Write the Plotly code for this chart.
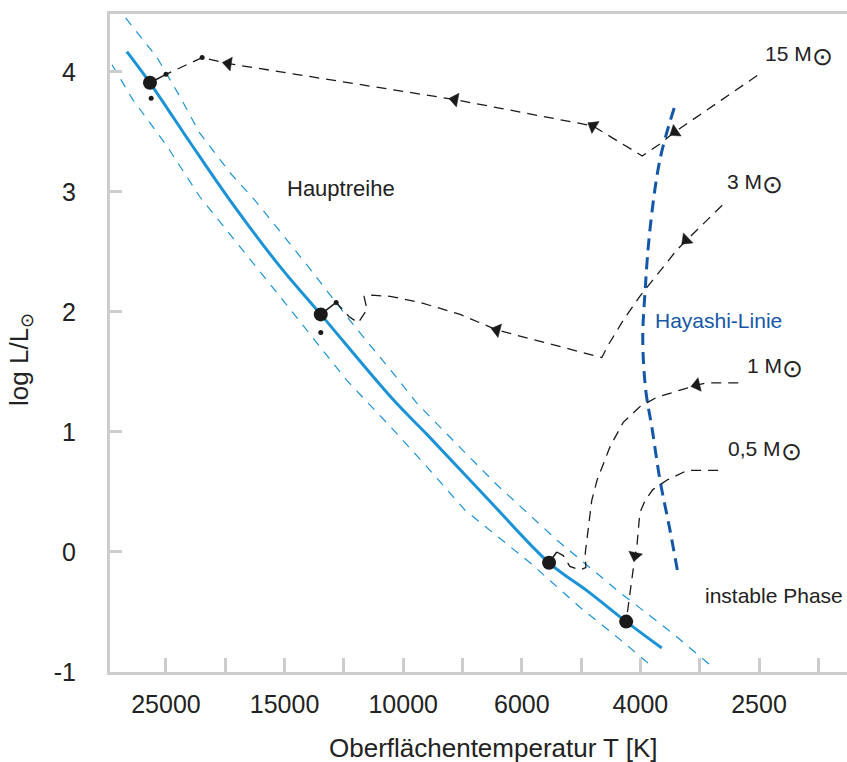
import plotly.graph_objects as go

# ---------------- data (schematic HR diagram) ----------------
# x axis: schematic (logarithmic) temperature scale, one unit per tick mark
X_TICK_LABELS = ["25000", "", "15000", "", "10000", "", "6000", "", "4000", "", "2500", ""]
Y_TICKS = [-1, 0, 1, 2, 3, 4]
Y_TICK_LABELS = ["-1", "0", "1", "2", "3", "4"]

# main sequence (solid) and its band (dashed)
MS_X = [-0.66, -0.27, 0.41, 1.08, 1.92, 2.61, 3.83, 4.40, 5.43, 6.46, 7.12, 7.76, 8.36]
MS_Y = [4.17, 3.91, 3.41, 2.93, 2.38, 1.98, 1.27, 0.98, 0.44, -0.09, -0.33, -0.58, -0.80]
UP_X = [-0.68, -0.15, 0.24, 0.57, 1.08, 1.50, 2.38, 3.10, 3.83, 4.23, 4.96, 5.58, 6.59, 7.66, 8.55, 9.22]
UP_Y = [4.45, 4.12, 3.79, 3.49, 3.16, 2.93, 2.39, 1.93, 1.49, 1.24, 0.87, 0.56, 0.10, -0.34, -0.68, -0.96]
LO_X = [-0.91, -0.56, 0.02, 0.57, 1.92, 3.05, 3.83, 4.40, 5.04, 6.14, 6.98, 7.66, 8.21]
LO_Y = [4.06, 3.77, 3.38, 2.96, 2.13, 1.43, 1.02, 0.71, 0.35, -0.09, -0.46, -0.73, -0.96]

# Hayashi line
HAY_X = [8.57, 8.33, 8.16, 8.08, 8.04, 8.09, 8.20, 8.33, 8.50, 8.63]
HAY_Y = [3.70, 3.27, 2.68, 2.18, 1.77, 1.35, 1.02, 0.60, 0.18, -0.17]

# evolutionary tracks (pre-main-sequence)
T15_X = [9.97, 8.58, 8.33, 8.03, 7.20, 4.87, 1.05, 0.61, 0.00]
T15_Y = [3.97, 3.50, 3.40, 3.30, 3.55, 3.77, 4.07, 4.12, 3.98]
T15_ARROWS = [1, 4, 5, 6]
T15_END_X = [0.00, -0.27]
T15_END_Y = [3.98, 3.91]

T3_X = [9.38, 8.77, 8.62, 8.28, 7.99, 7.71, 7.44, 7.35, 6.48, 5.58, 4.96, 4.28, 3.78, 3.47, 3.34, 3.39, 3.24, 3.09, 2.87]
T3_Y = [2.89, 2.60, 2.52, 2.31, 2.13, 1.93, 1.71, 1.62, 1.73, 1.85, 1.98, 2.08, 2.13, 2.14, 2.13, 2.02, 1.91, 1.96, 2.08]
T3_ARROWS = [1, 9]
T3_END_X = [2.87, 2.61]
T3_END_Y = [2.08, 1.98]

T1_X = [9.65, 9.12, 8.95, 8.28, 7.99, 7.71, 7.49, 7.27, 7.18, 7.12, 7.07, 7.08, 6.98, 6.81, 6.70, 6.59]
T1_Y = [1.41, 1.41, 1.39, 1.29, 1.21, 1.08, 0.88, 0.60, 0.43, 0.18, -0.01, -0.13, -0.15, -0.12, -0.03, 0.00]
T1_ARROWS = [2]
T1_END_X = [6.59, 6.46]
T1_END_Y = [0.00, -0.09]

T05_X = [9.31, 8.79, 8.45, 8.21, 8.08, 8.01, 7.98, 7.94, 7.91, 7.86, 7.79, 7.76]
T05_Y = [0.68, 0.68, 0.60, 0.52, 0.43, 0.35, 0.27, 0.04, -0.03, -0.23, -0.51, -0.58]
T05_ARROWS = [8]

# stars arriving on the main sequence, and small dots
STAR_X = [-0.27, 2.61, 6.46, 7.76]
STAR_Y = [3.91, 1.98, -0.09, -0.58]
DOT_X = [0.61, 0.00, -0.25, 2.87, 2.61]
DOT_Y = [4.12, 3.98, 3.78, 2.08, 1.83]

# text labels
SUN = "<sub><span style='font-size:25px'>⊙</span></sub>"
LABELS = ["Hauptreihe", "Hayashi-Linie", "15 M" + SUN, "3 M" + SUN, "1 M" + SUN, "0,5 M" + SUN,
          "instable Phase"]
LABEL_X = [2.95, 8.21, 10.07, 9.43, 9.77, 9.44, 9.06]
LABEL_Y = [3.03, 1.93, 4.13, 3.07, 1.53, 0.84, -0.36]

# ---------------- styling ----------------
FONT = "Liberation Sans, Arial, Helvetica, sans-serif"
MS_COLOR = "#1b93d6"
HAY_COLOR = "#1457a6"
TRACK_COLOR = "#1a1a1a"
AXIS_COLOR = "#cdcdcd"

fig = go.Figure()

fig.add_trace(go.Scatter(x=UP_X, y=UP_Y, mode="lines",
                         line=dict(color=MS_COLOR, width=1.2, dash="9px,8px"), hoverinfo="skip"))
fig.add_trace(go.Scatter(x=LO_X, y=LO_Y, mode="lines",
                         line=dict(color=MS_COLOR, width=1.2, dash="9px,8px"), hoverinfo="skip"))
fig.add_trace(go.Scatter(x=MS_X, y=MS_Y, mode="lines", line=dict(color=MS_COLOR, width=3, shape="spline"),
                         hoverinfo="skip"))
fig.add_trace(go.Scatter(x=HAY_X, y=HAY_Y, mode="lines",
                         line=dict(color=HAY_COLOR, width=3, dash="12px,7px", shape="spline"), hoverinfo="skip"))


def add_track(xs, ys, arrows):
    sizes = [12 if i in arrows else 0 for i in range(len(xs))]
    fig.add_trace(go.Scatter(
        x=xs, y=ys, mode="lines+markers",
        line=dict(color=TRACK_COLOR, width=1.3, dash="10px,7px"),
        marker=dict(symbol="triangle-up", size=sizes, color=TRACK_COLOR, angleref="previous",
                    opacity=1, line=dict(width=0.5, color=TRACK_COLOR)),
        hoverinfo="skip"))


add_track(T15_X, T15_Y, T15_ARROWS)
add_track(T3_X, T3_Y, T3_ARROWS)
add_track(T1_X, T1_Y, T1_ARROWS)
add_track(T05_X, T05_Y, T05_ARROWS)

for ex, ey in [(T15_END_X, T15_END_Y), (T3_END_X, T3_END_Y), (T1_END_X, T1_END_Y)]:
    fig.add_trace(go.Scatter(x=ex, y=ey, mode="lines", line=dict(color=TRACK_COLOR, width=1.5),
                             hoverinfo="skip"))

fig.add_trace(go.Scatter(x=DOT_X, y=DOT_Y, mode="markers",
                         marker=dict(size=5, color=TRACK_COLOR), hoverinfo="skip"))
fig.add_trace(go.Scatter(x=STAR_X, y=STAR_Y, mode="markers",
                         marker=dict(size=14, color=TRACK_COLOR), hoverinfo="skip"))

for txt, lx, ly in zip(LABELS, LABEL_X, LABEL_Y):
    centered = txt == "Hauptreihe"
    fig.add_annotation(x=lx, y=ly, text=txt, showarrow=False,
                       xanchor="center" if centered else "left", yanchor="middle",
                       font=dict(family=FONT, size=22 if centered else 21,
                                 color=HAY_COLOR if txt == "Hayashi-Linie" else "#222222"))

# axis titles
fig.add_annotation(xref="paper", yref="paper", x=0.521, y=-0.1155, text="Oberflächentemperatur T [K]",
                   showarrow=False, xanchor="center", yanchor="middle",
                   font=dict(family=FONT, size=26, color="#222222"))
fig.add_annotation(xref="paper", yref="paper", x=-0.1208, y=0.4757, text="log L/L<sub>⊙</sub>",
                   showarrow=False, xanchor="center", yanchor="middle", textangle=-90,
                   font=dict(family=FONT, size=26, color="#222222"))

fig.update_layout(
    width=847, height=762,
    margin=dict(l=110, r=0, t=14, b=90),
    paper_bgcolor="white", plot_bgcolor="white",
    showlegend=False,
    font=dict(family=FONT, color="#222222"),
    xaxis=dict(range=[-0.944, 11.484], tickvals=list(range(len(X_TICK_LABELS))), ticktext=X_TICK_LABELS,
               ticks="inside", ticklen=14, tickwidth=2.5, tickcolor=AXIS_COLOR,
               showline=True, linecolor=AXIS_COLOR, linewidth=3, mirror=True,
               showgrid=False, zeroline=False, ticklabelstandoff=8,
               tickfont=dict(family=FONT, size=25, color="#222222")),
    yaxis=dict(range=[-1, 4.483], tickvals=Y_TICKS, ticktext=Y_TICK_LABELS,
               ticks="inside", ticklen=12, tickwidth=2.5, tickcolor=AXIS_COLOR,
               showline=True, linecolor=AXIS_COLOR, linewidth=3,
               showgrid=False, zeroline=False, ticklabelstandoff=26,
               tickfont=dict(family=FONT, size=25, color="#222222")),
)

fig.write_html("out.html")
